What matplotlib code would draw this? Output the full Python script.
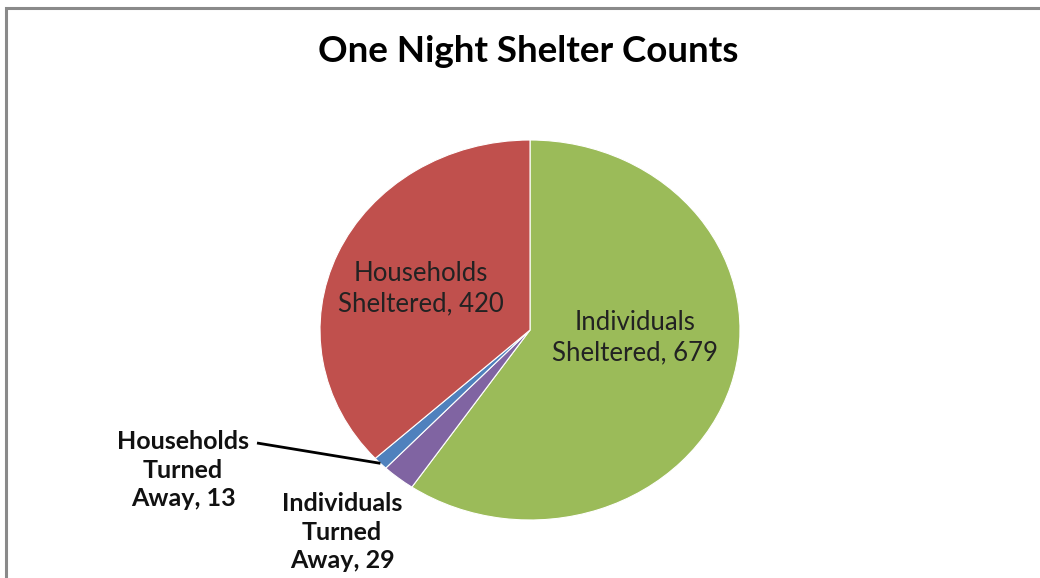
import numpy as np
import matplotlib
matplotlib.use("Agg")
import matplotlib.pyplot as plt
from matplotlib.patches import Rectangle

# shelter counts, in clockwise order from 12 o'clock
categories = ["Individuals Sheltered", "Individuals Turned Away",
              "Households Turned Away", "Households Sheltered"]
counts = [679, 29, 13, 420]
colors = ["#9BBB59", "#8064A2", "#4F81BD", "#C0504D"]

W, H = 1040, 578
CX, CY, RX, RY = 530, 330, 210, 190   # pie centre / radii in pixels


def px(x, y):
    """pixel position (from top-left) -> data coords of the unit pie"""
    return (x - CX) / RX, (CY - y) / RY


fig = plt.figure(figsize=(W / 100, H / 100), dpi=100)
ax = fig.add_axes([0, 0, 1, 1])
plt.rcParams["font.family"] = ["Lato", "DejaVu Sans"]

wedges, _ = ax.pie(counts, colors=colors, startangle=90, counterclock=False,
                   wedgeprops=dict(edgecolor="white", linewidth=0.8))
ax.set_aspect("auto")
ax.set_xlim(-CX / RX, (W - CX) / RX)
ax.set_ylim(-(H - CY) / RY, CY / RY)
ax.axis("off")

# inside labels
inner = {0: (635, 338), 3: (421, 289)}
for i, (x, y) in inner.items():
    name = categories[i].replace(" ", "\n", 1)
    ax.text(*px(x, y), f"{name}, {counts[i]}", ha="center", va="center",
            fontsize=18.5, color="#222222", linespacing=1.28)

# outside labels
outer = {1: (342, 532), 2: (183, 470)}
for i, (x, y) in outer.items():
    a, b = categories[i].split(" ", 1)
    b1, b2 = b.split(" ")
    ax.text(*px(x, y), f"{a}\n{b1}\n{b2}, {counts[i]}", ha="center",
            va="center", fontsize=18, fontweight="bold", color="#111111",
            linespacing=1.3)

# leader line to the small blue wedge
w = wedges[2]
mid = np.deg2rad((w.theta1 + w.theta2) / 2)
ax.plot([px(257, 443)[0], np.cos(mid)], [px(257, 443)[1], np.sin(mid)],
        color="black", lw=2, solid_capstyle="butt")

fig.text(528 / W, 1 - 52 / H, "One Night Shelter Counts", ha="center",
         va="center", fontsize=26.5, fontweight="bold", color="black")

# chart frame (only top and left edges fall inside the image)
fig.add_artist(Rectangle((6 / W, -0.1), 1.2, 1 - 8 / H + 0.1,
                         transform=fig.transFigure, fill=False,
                         edgecolor="#8a8a8a", linewidth=2.2))

fig.savefig("out.png", dpi=100, facecolor="white")
